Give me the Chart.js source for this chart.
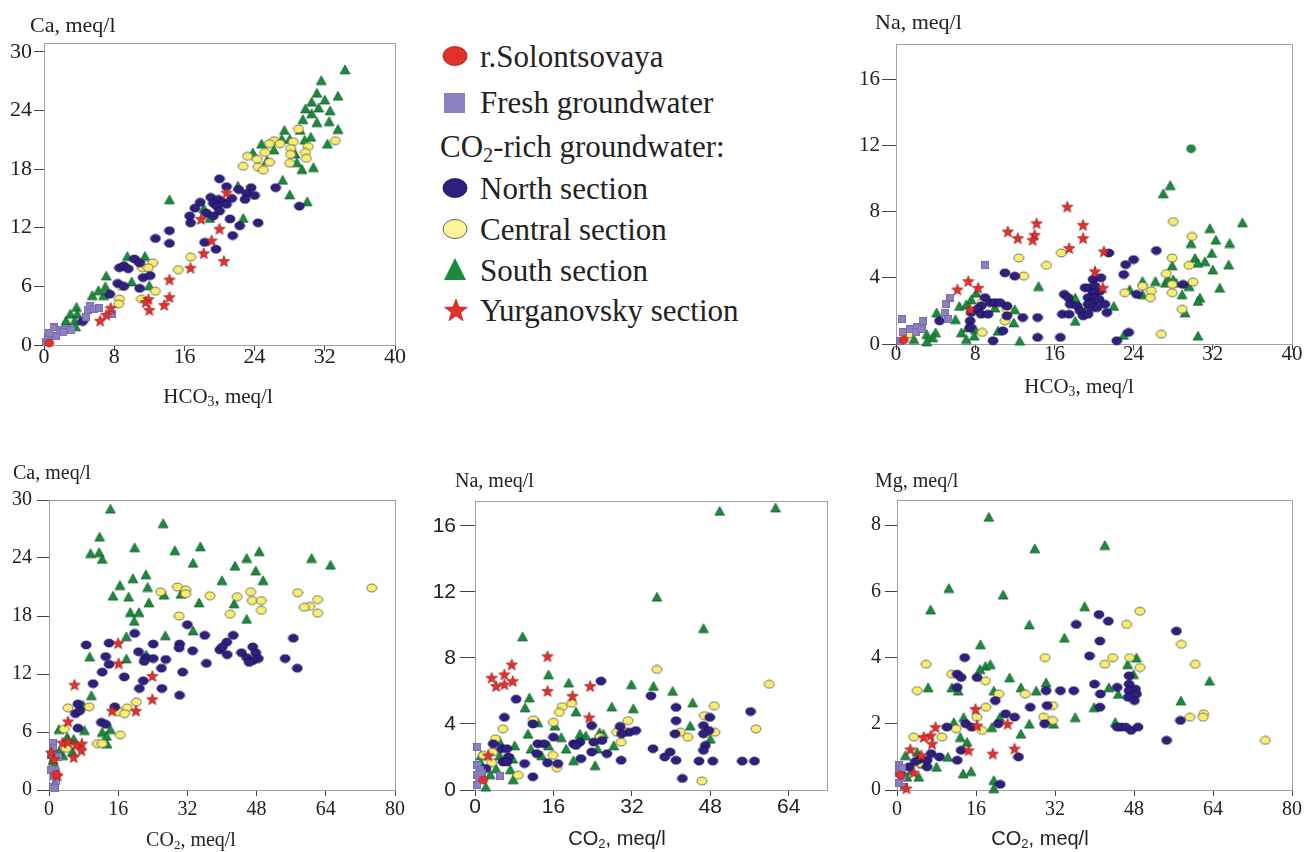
<!DOCTYPE html>
<html>
<head>
<meta charset="utf-8">
<script src="https://cdn.jsdelivr.net/npm/chart.js@4.4.1/dist/chart.umd.min.js"></script>
<style>
  html,body{margin:0;padding:0;background:#fff;}
  #wrap{position:relative;width:1311px;height:852px;overflow:hidden;background:#fff;}
  canvas{position:absolute;}
  .t{position:absolute;white-space:nowrap;line-height:1;color:#222;}
  .serif{font-family:'Liberation Serif','Times New Roman',Times,serif;}
  .sans{font-family:'Liberation Sans',Arial,Helvetica,sans-serif;}
  .c{transform:translate(-50%,-50%);}
  .l{transform:translate(0,-50%);}
  sub{font-size:65%;vertical-align:-0.25em;line-height:0;}
  .leg{position:absolute;font-family:'Liberation Serif','Times New Roman',Times,serif;font-size:31px;color:#222;line-height:1;white-space:nowrap;transform:translate(0,-50%);}
  svg.ic{position:absolute;}
</style>
</head>
<body>
<div id="wrap">
  <canvas id="c1"></canvas>
  <canvas id="c2"></canvas>
  <canvas id="c3"></canvas>
  <canvas id="c4"></canvas>
  <canvas id="c5"></canvas>

  <div class="t serif l" style="left:30px;top:25px;font-size:22px;">Ca, meq/l</div>
  <div class="t serif c" style="left:218px;top:396px;font-size:21px;">HCO<sub>3</sub>, meq/l</div>
  <div class="t serif l" style="left:875px;top:22px;font-size:22px;">Na, meq/l</div>
  <div class="t serif c" style="left:1079px;top:386px;font-size:21px;">HCO<sub>3</sub>, meq/l</div>
  <div class="t serif l" style="left:13px;top:472px;font-size:20px;">Ca, meq/l</div>
  <div class="t serif c" style="left:191px;top:839px;font-size:20px;">CO<sub>2</sub>, meq/l</div>
  <div class="t serif l" style="left:455px;top:480px;font-size:20px;">Na, meq/l</div>
  <div class="t sans c" style="left:617px;top:838px;font-size:20px;">CO<sub>2</sub>, meq/l</div>
  <div class="t serif l" style="left:875px;top:480px;font-size:20px;">Mg, meq/l</div>
  <div class="t sans c" style="left:1040px;top:838px;font-size:20px;">CO<sub>2</sub>, meq/l</div>

  <svg class="ic" style="left:440px;top:43px" width="30" height="26"><ellipse cx="15" cy="13" rx="12" ry="9.5" fill="#e3302b" stroke="#a01818" stroke-width="0.8"/></svg>
  <div class="leg" style="left:480px;top:56px;">r.Solontsovaya</div>
  <svg class="ic" style="left:440px;top:90px" width="30" height="26"><rect x="4" y="3" width="21" height="20" fill="#8d80c0"/></svg>
  <div class="leg" style="left:480px;top:102px;">Fresh groundwater</div>
  <div class="leg" style="left:440px;top:146px;">CO<sub>2</sub>-rich groundwater:</div>
  <svg class="ic" style="left:440px;top:175px" width="30" height="26"><ellipse cx="15" cy="13" rx="12" ry="9.5" fill="#2f1f80" stroke="#1a1040" stroke-width="0.8"/></svg>
  <div class="leg" style="left:480px;top:188px;">North section</div>
  <svg class="ic" style="left:440px;top:216px" width="30" height="26"><ellipse cx="15" cy="13" rx="12" ry="9.5" fill="#fbf49a" stroke="#555" stroke-width="0.9"/></svg>
  <div class="leg" style="left:480px;top:229px;">Central section</div>
  <svg class="ic" style="left:440px;top:256px" width="30" height="26"><polygon points="15,2 26,24 4,24" fill="#1a8a3c"/></svg>
  <div class="leg" style="left:480px;top:270px;">South section</div>
  <svg class="ic" style="left:441px;top:296px" width="30" height="28"><polygon id="legstar" fill="#e3302b" stroke="#a01818" stroke-width="0.6"/></svg>
  <div class="leg" style="left:480px;top:310px;">Yurganovsky section</div>
</div>
<script>
// ---------- tick labels ----------
const xTicksHCO3 = [0, 8, 16, 24, 32, 40];
const xTicksCO2 = [0, 16, 32, 48, 64, 80];
const xTicksCO2Na = [0, 16, 32, 48, 64];
const yTicksCa = [0, 6, 12, 18, 24, 30];
const yTicksNa = [0, 4, 8, 12, 16];
const yTicksMg = [0, 2, 4, 6, 8];

// ---------- Panel 1: Ca vs HCO3 ----------
const p1River = [[0.6,0.2]];
const p1Fresh = [[0.2,0.3],[0.5,0.7],[0.6,1.2],[1.1,1.8],[1.4,0.9],[1.8,1.5],[2.5,1.6],[3.1,1.5],[2.2,1.3],[4.8,2.9],[5.0,3.6],[5.2,4.0],[5.7,3.7],[6.3,3.8],[7.7,3.2]];
const p1North = [[20.0,17.0],[20.8,16.2],[23.6,16.1],[26.4,16.1],[22.2,15.9],[23.1,15.5],[24.0,15.3],[22.9,14.9],[19.0,15.1],[19.9,14.9],[17.8,14.6],[19.3,14.5],[20.4,14.6],[21.4,15.0],[20.8,14.4],[29.1,14.2],[19.7,14.2],[17.2,14.0],[18.5,13.5],[20.0,13.7],[16.6,13.2],[19.3,13.2],[16.7,12.5],[21.2,12.9],[24.4,12.5],[22.3,12.2],[21.5,11.2],[14.3,11.7],[12.7,10.9],[14.3,10.4],[18.3,10.5],[19.6,9.8],[10.3,8.8],[10.9,8.4],[8.6,7.9],[9.1,8.1],[9.6,7.8],[11.3,6.9],[12.1,7.1],[8.4,6.3],[9.1,6.0],[10.9,5.8],[7.5,5.2],[4.4,2.4]];
const p1Central = [[29.0,22.1],[26.2,20.9],[25.7,20.6],[26.9,20.6],[28.4,20.8],[28.1,20.1],[30.1,20.3],[33.2,20.9],[25.2,19.7],[28.1,19.5],[29.8,19.7],[23.2,19.3],[24.3,19.0],[29.9,19.1],[25.7,18.7],[28.0,18.6],[22.7,18.3],[24.4,18.2],[25.0,17.9],[16.7,9.0],[15.3,7.7],[10.8,8.5],[12.4,8.4],[11.2,7.9],[11.9,7.9],[8.8,6.0],[8.6,4.7],[8.5,4.2],[12.7,5.5],[11.1,4.7],[1.5,1.3]];
const p1South = [[34.3,28.2],[31.6,27.1],[31.1,25.8],[33.5,25.5],[30.5,24.9],[32.0,25.1],[29.8,24.2],[31.3,24.3],[32.6,24.0],[30.5,23.7],[29.5,23.1],[31.1,22.8],[32.5,22.9],[33.5,22.1],[29.2,22.0],[27.4,22.0],[28.0,21.1],[27.1,21.1],[30.4,21.3],[29.7,21.0],[32.3,20.6],[24.8,20.6],[26.2,20.0],[28.6,19.6],[23.8,19.7],[25.4,18.9],[28.8,18.7],[29.4,18.0],[30.7,18.2],[27.2,16.9],[22.1,16.3],[28.0,15.4],[30.0,14.7],[14.3,14.9],[18.2,14.0],[18.9,13.0],[22.7,13.0],[9.5,9.1],[11.5,9.1],[10.0,6.5],[12.0,6.1],[7.1,7.1],[7.0,6.0],[6.8,5.1],[6.2,5.6],[5.5,5.1],[3.7,3.9],[3.0,3.2],[3.8,3.2],[3.5,2.5],[2.5,2.5],[3.6,1.9]];
const p1Yurg = [[20.8,15.6],[17.9,12.9],[20.0,11.9],[19.1,10.7],[18.2,9.4],[20.5,8.6],[16.7,7.9],[14.3,6.7],[14.3,4.9],[13.7,4.1],[11.9,4.7],[11.6,4.4],[12.0,3.6],[7.6,3.8],[7.1,3.1],[6.4,2.5]];

// ---------- Panel 2: Na vs HCO3 ----------
const p2River = [[0.8,0.25]];
const p2Fresh = [[9.0,4.75],[5.5,2.8],[5.0,2.4],[4.9,1.9],[5.3,1.5],[0.6,1.5],[2.7,1.4],[2.1,1.0],[1.4,0.9],[0.7,0.7],[2.0,0.7],[2.6,0.9],[0.4,0.2]];
const p2North = [[26.3,5.65],[24.0,5.1],[23.2,4.8],[23.0,4.2],[24.3,3.0],[21.5,5.5],[11.0,4.3],[12.0,4.1],[11.2,2.3],[11.2,1.7],[12.8,1.6],[14.3,1.6],[14.3,0.4],[16.6,0.4],[9.8,0.2],[10.8,0.8],[9.0,2.8],[9.5,2.5],[10.0,2.5],[10.5,2.5],[8.6,2.3],[8.2,2.1],[8.6,1.8],[9.3,1.8],[7.6,1.9],[7.5,1.4],[7.5,1.0],[4.4,1.4],[17.0,3.0],[17.4,2.8],[17.6,2.4],[16.8,1.8],[17.5,1.8],[18.3,2.3],[18.6,2.0],[18.9,1.7],[19.4,1.8],[19.1,3.4],[19.6,3.4],[19.9,3.9],[20.1,3.5],[20.6,3.2],[19.9,3.1],[19.4,2.8],[20.1,2.8],[20.7,4.0],[19.9,2.5],[20.5,2.7],[19.4,2.4],[19.9,2.2],[21.1,2.4],[21.3,1.9],[20.3,2.2],[22.3,0.2],[23.5,0.7],[29.0,3.6]];
const p2Central = [[28.0,7.4],[29.9,6.5],[27.9,5.2],[29.6,4.75],[27.3,4.25],[30.0,3.75],[27.9,3.6],[27.9,3.1],[24.9,3.5],[25.8,3.2],[25.7,2.8],[23.1,3.1],[28.9,2.1],[26.8,0.6],[16.7,5.5],[15.2,4.75],[12.4,5.2],[12.9,4.1],[11.2,2.1],[11.0,1.4],[8.7,2.5],[8.7,0.7],[1.3,0.6]];
const p2South = [[35.0,7.35],[27.0,9.1],[27.7,9.6],[31.7,7.0],[32.3,6.3],[33.7,6.1],[29.8,6.1],[31.9,5.5],[30.2,5.2],[31.2,5.0],[30.5,4.9],[32.0,4.5],[33.6,4.8],[27.9,4.75],[32.7,3.4],[29.6,3.5],[28.9,3.0],[27.2,3.7],[28.0,3.9],[28.3,3.7],[27.5,3.9],[26.2,3.8],[24.9,3.8],[24.9,3.0],[23.6,3.3],[30.7,2.8],[30.5,2.6],[29.2,1.9],[30.5,0.5],[23.0,0.55],[22.0,2.3],[19.2,2.1],[18.1,2.8],[18.1,1.4],[14.4,3.5],[12.0,2.1],[11.9,1.3],[12.5,0.2],[10.0,2.2],[10.3,0.8],[8.1,3.1],[7.6,2.7],[7.1,2.4],[8.0,0.9],[7.2,1.0],[7.9,0.5],[7.1,0.3],[6.6,0.7],[6.4,2.3],[6.0,1.5],[4.1,1.9],[4.0,0.7],[3.7,0.4],[3.1,0.6],[3.1,0.15],[1.8,0.3]];
const p2SouthCircle = [[29.8,11.8]];
const p2Yurg = [[17.3,8.3],[18.9,7.2],[14.2,7.3],[11.3,6.8],[12.3,6.4],[14.0,6.6],[13.8,6.3],[18.9,6.4],[17.5,5.8],[21.0,5.6],[20.1,4.4],[20.9,3.4],[7.3,3.8],[6.2,3.3],[8.3,3.4],[7.5,2.1]];

// ---------- Panel 3: Ca vs CO2 ----------
const p3River = [[1.7,1.6]];
const p3Fresh = [[0.9,4.9],[0.9,4.3],[1.3,2.1],[0.5,2.1],[1.7,1.7],[1.2,1.4],[1.7,0.9],[0.9,0.3],[1.3,0.2],[0.5,3.6],[2.1,3.4]];
const p3North = [[32.0,17.1],[19.8,16.2],[36.0,16.0],[42.6,16.0],[56.5,15.7],[13.9,15.2],[24.1,15.1],[30.2,15.1],[41.1,15.3],[8.6,15.0],[20.7,14.3],[30.1,14.7],[33.2,14.4],[39.5,14.5],[40.1,14.8],[44.5,14.2],[41.2,14.0],[47.1,14.8],[47.8,14.2],[45.7,13.7],[48.4,13.6],[47.2,13.4],[46.3,13.2],[54.6,13.6],[57.4,12.6],[13.1,13.8],[22.3,13.7],[24.1,13.6],[27.0,13.5],[36.4,13.1],[13.9,13.0],[12.3,12.2],[22.0,13.3],[26.0,12.6],[30.9,12.2],[17.4,11.7],[21.8,11.3],[10.2,11.0],[20.9,10.5],[26.1,10.5],[30.2,9.8],[6.7,8.9],[6.1,7.9],[7.1,8.2],[15.2,8.6],[12.1,7.0],[13.1,6.8],[6.7,6.4]];
const p3Central = [[74.6,20.9],[29.7,21.0],[31.6,20.7],[31.6,20.3],[25.8,20.5],[37.2,20.1],[43.5,20.0],[46.6,20.5],[47.0,19.6],[49.1,19.6],[49.1,18.6],[57.5,20.4],[62.1,19.7],[60.3,19.0],[59.0,18.9],[62.1,18.3],[41.9,18.2],[30.1,18.0],[20.2,9.1],[18.1,8.5],[16.1,8.1],[17.5,7.9],[9.3,8.6],[4.4,8.5],[3.5,6.3],[16.5,5.7],[11.2,4.8],[12.3,4.8],[4.0,4.3]];
const p3South = [[14.2,29.1],[26.4,27.6],[11.7,26.2],[19.8,25.1],[9.6,24.5],[11.6,24.6],[12.3,23.9],[29.1,24.8],[35.0,25.2],[48.6,24.7],[45.7,24.0],[60.7,24.0],[65.1,23.3],[33.3,23.5],[43.0,23.2],[47.8,22.7],[49.5,21.7],[40.0,21.7],[22.4,22.3],[19.4,21.9],[22.8,21.0],[16.4,21.2],[14.8,20.1],[18.4,20.0],[26.6,20.2],[30.5,20.3],[23.1,19.4],[34.7,19.4],[42.8,19.3],[18.8,18.4],[20.8,18.4],[19.7,17.5],[45.7,17.7],[17.9,15.9],[26.9,16.0],[33.3,16.5],[22.5,14.0],[17.9,13.6],[9.4,13.8],[9.8,9.8],[7.9,8.8],[8.2,6.2],[14.2,6.3],[12.3,6.0],[13.3,5.6],[13.4,4.8],[2.3,6.3],[4.2,5.5],[5.7,5.3],[5.4,4.0],[3.2,3.6],[2.3,4.0],[0.9,3.1],[1.3,2.6]];
const p3Yurg = [[16.0,15.2],[16.1,13.1],[23.9,11.8],[5.9,10.9],[23.9,9.4],[20.1,8.2],[14.6,8.2],[4.4,7.1],[3.1,4.9],[4.4,5.0],[6.3,4.7],[7.6,4.8],[7.5,4.1],[5.7,3.4],[0.5,3.9],[1.2,3.2],[2.0,1.5]];

// ---------- Panel 4: Na vs CO2 ----------
const p4River = [[1.7,0.6]];
const p4Fresh = [[0.5,2.6],[0.5,1.5],[1.0,1.2],[0.5,0.9],[1.0,0.75],[0.5,0.3],[5.1,0.85],[1.4,1.0]];
const p4North = [[25.7,6.6],[35.9,5.7],[8.4,5.5],[41.0,5.0],[56.2,4.75],[6.0,4.4],[47.9,4.4],[11.8,4.0],[23.8,3.9],[41.0,4.2],[46.6,3.9],[29.6,3.85],[31.5,3.5],[32.8,3.6],[29.9,3.4],[47.7,3.6],[40.8,3.4],[46.6,3.4],[3.7,2.8],[12.8,2.8],[14.1,2.8],[16.0,3.2],[24.2,2.9],[25.9,3.0],[20.1,2.8],[21.4,2.9],[20.6,2.7],[5.4,2.5],[6.5,2.5],[47.0,2.7],[46.6,2.4],[23.8,2.3],[12.6,2.2],[36.3,2.5],[39.8,2.3],[38.7,2.0],[26.9,2.2],[6.8,2.0],[5.7,1.7],[6.5,1.7],[21.6,1.9],[29.8,1.8],[41.0,1.8],[45.7,1.75],[48.5,1.75],[54.5,1.75],[57.0,1.75],[14.8,1.65],[10.1,1.6],[16.9,1.6],[2.2,1.3],[11.8,0.8],[42.3,0.7]];
const p4Central = [[37.1,7.3],[60.0,6.4],[17.8,5.05],[19.7,5.25],[17.2,4.7],[48.8,5.1],[46.8,4.5],[11.9,4.25],[16.0,4.1],[31.2,4.2],[5.7,3.7],[57.3,3.7],[28.9,3.5],[30.8,3.5],[41.9,3.5],[48.9,3.5],[4.2,3.1],[25.5,3.2],[43.4,3.2],[29.8,2.9],[3.6,2.3],[1.7,2.1],[15.9,2.1],[3.4,1.65],[16.7,1.35],[8.8,0.9],[46.3,0.55]];
const p4South = [[61.3,17.1],[49.9,16.9],[37.1,11.7],[46.6,9.8],[9.7,9.3],[15.0,7.0],[19.1,6.5],[31.9,6.4],[36.4,6.3],[40.3,6.0],[11.1,5.6],[44.4,5.3],[10.2,5.0],[27.9,5.05],[32.3,4.95],[20.6,4.75],[12.8,4.1],[16.3,3.9],[43.9,3.9],[10.8,3.4],[21.4,3.4],[22.6,3.3],[17.6,3.2],[25.4,3.5],[26.2,3.4],[30.3,3.6],[48.0,3.1],[4.9,3.0],[8.1,2.7],[15.0,2.7],[28.3,2.7],[11.4,2.5],[18.6,2.5],[25.0,2.5],[13.6,2.1],[5.0,2.1],[7.7,1.9],[20.1,1.8],[24.5,1.5],[1.2,2.1],[1.2,1.65],[4.3,1.3],[7.2,1.25],[3.1,0.95],[7.8,0.65],[2.2,0.2]];
const p4Yurg = [[14.8,8.1],[7.5,7.6],[6.0,7.0],[3.4,6.8],[7.7,6.6],[4.3,6.3],[6.0,6.4],[14.8,6.0],[23.5,6.3],[19.9,5.7],[23.3,4.4],[2.7,2.1]];

// ---------- Panel 5: Mg vs CO2 ----------
const p5River = [[0.7,0.45]];
const p5Fresh = [[0.5,0.75],[0.5,0.6],[0.5,0.5],[1.0,0.35],[0.5,0.2],[1.4,0.1],[1.0,0.65]];
const p5North = [[40.9,5.3],[42.8,5.1],[36.3,5.0],[56.6,4.8],[41.1,4.5],[13.7,4.0],[39.0,4.05],[12.2,3.5],[13.0,3.4],[16.2,3.4],[12.2,3.1],[47.0,3.45],[40.0,3.2],[47.0,3.2],[44.6,3.1],[48.3,3.05],[47.0,3.0],[48.5,2.9],[41.2,2.9],[30.2,3.0],[33.1,3.0],[35.8,3.0],[46.8,2.8],[48.1,2.7],[30.4,2.55],[27.0,2.5],[19.9,2.7],[41.1,2.5],[22.0,2.3],[23.8,2.2],[20.5,2.0],[13.9,2.0],[15.1,1.9],[10.1,1.9],[29.9,2.0],[45.4,1.9],[46.3,1.9],[44.6,1.9],[47.4,1.8],[48.8,1.9],[57.4,2.1],[54.6,1.5],[13.0,1.2],[12.2,0.9],[6.9,1.1],[8.6,1.0],[6.1,0.9],[4.6,0.93],[6.1,0.7],[3.7,0.86],[2.4,0.7],[24.6,1.0],[20.9,0.17],[0.7,0.5]];
const p5Central = [[74.6,1.5],[49.2,5.4],[46.5,5.0],[57.6,4.4],[60.4,3.8],[47.1,4.0],[43.7,4.0],[42.1,3.8],[49.2,3.7],[30.0,4.0],[5.9,3.8],[11.1,3.5],[17.9,3.3],[4.1,3.0],[20.6,2.9],[26.0,2.9],[31.5,2.55],[18.0,2.5],[29.7,2.2],[31.5,2.1],[16.2,2.2],[12.0,1.85],[17.2,1.8],[59.3,2.2],[62.1,2.3],[62.0,2.2],[3.4,1.6],[9.1,1.6],[4.6,0.8]];
const p5South = [[18.6,8.25],[42.1,7.4],[27.9,7.3],[10.5,6.1],[21.5,5.9],[6.8,5.45],[38.0,5.55],[26.8,5.0],[33.9,4.6],[16.9,4.4],[48.5,4.0],[17.9,3.75],[18.9,3.8],[16.8,3.65],[46.7,3.8],[47.9,3.5],[6.3,3.1],[11.1,3.1],[12.4,3.0],[22.8,3.4],[30.2,3.25],[25.1,3.1],[28.2,3.0],[42.9,3.1],[44.8,2.9],[19.6,3.0],[63.3,3.3],[57.5,2.7],[39.9,2.5],[11.5,2.05],[13.5,2.2],[20.8,2.2],[36.1,2.2],[31.7,2.0],[26.8,2.0],[44.2,2.05],[19.2,1.9],[25.1,1.7],[12.8,1.6],[14.2,1.45],[10.3,1.0],[1.7,1.05],[4.1,1.15],[8.0,0.7],[5.3,0.8],[4.4,0.4],[13.4,0.5],[15.0,0.57],[19.6,0.3],[19.6,0.05],[2.0,0.4],[3.0,0.6]];
const p5Yurg = [[15.9,2.45],[16.2,1.95],[22.4,2.0],[7.8,1.9],[6.8,1.65],[5.4,1.6],[7.1,1.4],[19.4,1.1],[14.5,1.2],[23.8,1.25],[2.7,1.23],[4.9,1.05],[3.4,0.53],[1.9,0.05]];

// ---------- marker images ----------
function mk(w, h, draw) {
  const c = document.createElement('canvas');
  c.width = w; c.height = h;
  draw(c.getContext('2d'), w, h);
  return c;
}
function ellipse(w, h, fill, stroke, lw) {
  return mk(w + 2, h + 2, (g, W, H) => {
    g.beginPath(); g.ellipse(W / 2, H / 2, w / 2, h / 2, 0, 0, Math.PI * 2);
    g.fillStyle = fill; g.fill(); g.lineWidth = lw; g.strokeStyle = stroke; g.stroke();
  });
}
function tri(w, h, fill, stroke) {
  return mk(w + 2, h + 2, (g, W, H) => {
    g.beginPath(); g.moveTo(W / 2, 1); g.lineTo(W - 1, H - 1); g.lineTo(1, H - 1); g.closePath();
    g.fillStyle = fill; g.fill(); g.lineWidth = 0.6; g.strokeStyle = stroke; g.stroke();
  });
}
function sq(s, fill) {
  return mk(s, s, (g) => { g.fillStyle = fill; g.fillRect(0, 0, s, s); g.strokeStyle = '#6a5ea0'; g.lineWidth = 0.5; g.strokeRect(0.25, 0.25, s - 0.5, s - 0.5); });
}
function starPts(cx, cy, ro, ri) {
  const p = [];
  for (let i = 0; i < 10; i++) {
    const r = i % 2 ? ri : ro;
    const a = -Math.PI / 2 + i * Math.PI / 5;
    p.push([cx + r * Math.cos(a), cy + r * Math.sin(a)]);
  }
  return p;
}
function star(s, fill, stroke) {
  return mk(s + 2, s + 2, (g, W, H) => {
    const p = starPts(W / 2, H / 2 + 0.6, s / 2, s / 4.6);
    g.beginPath(); p.forEach((q, i) => i ? g.lineTo(q[0], q[1]) : g.moveTo(q[0], q[1])); g.closePath();
    g.fillStyle = fill; g.fill(); g.lineWidth = 0.6; g.strokeStyle = stroke; g.stroke();
  });
}
document.getElementById('legstar').setAttribute('points', starPts(15, 15, 12, 5).map(q => q.join(',')).join(' '));

const M = {
  river: ellipse(9, 8, '#e3302b', '#9a1515', 0.6),
  fresh: sq(8, '#8d80c0'),
  north: ellipse(10, 8, '#2f1f80', '#140c40', 0.7),
  central: ellipse(10, 8, '#f8ee6c', '#555', 0.8),
  south: tri(10, 9, '#1a8a3c', '#0b4a1c'),
  southC: ellipse(9, 8, '#1a8a3c', '#0b4a1c', 0.6),
  yurg: star(12, '#e3302b', '#8a1212')
};

const serif = "'Liberation Serif','Times New Roman',Times,serif";
const sans = "'Liberation Sans',Arial,Helvetica,sans-serif";

const framePlugin = {
  id: 'frame',
  beforeDatasetsDraw(chart) {
    const a = chart.chartArea, g = chart.ctx;
    g.save(); g.strokeStyle = '#a0a0a0'; g.lineWidth = 1;
    g.strokeRect(a.left + 0.5, a.top + 0.5, a.right - a.left, a.bottom - a.top);
    g.restore();
  }
};

function pts(arr) { return arr.map(p => ({ x: p[0], y: p[1] })); }

function build(id, area, xr, yr, xt, yt, tf, series) {
  const PL = 62, PT = 20, PR = 28, PB = 48;
  const cv = document.getElementById(id);
  const w = area[2] - area[0] + PL + PR, h = area[3] - area[1] + PT + PB;
  cv.width = w; cv.height = h;
  cv.style.width = w + 'px'; cv.style.height = h + 'px';
  cv.style.left = (area[0] - PL) + 'px'; cv.style.top = (area[1] - PT) + 'px';
  const order = ['river', 'yurg', 'fresh', 'north', 'central', 'south', 'southC'];
  const datasets = order.filter(k => series[k]).map(k => ({
    label: k, data: pts(series[k]), pointStyle: M[k], pointRadius: 5, pointHoverRadius: 5, clip: false, showLine: false
  }));
  const axisCommon = (ticks, min, max, tl, pad) => ({
    type: 'linear', min, max,
    afterBuildTicks: s => { s.ticks = ticks.map(v => ({ value: v })); },
    grid: { display: true, drawOnChartArea: false, drawTicks: true, tickLength: tl, color: '#444', lineWidth: 1 },
    border: { display: true, color: '#666', width: 1 },
    ticks: { color: '#222', font: { family: tf.family, size: tf.size }, padding: pad, maxRotation: 0, autoSkip: false, callback: v => String(v) }
  });
  const xs = axisCommon(xt, xr[0], xr[1], 6, tf.xPad);
  xs.position = 'bottom';
  xs.afterFit = s => { s.height = PB; };
  const ys = axisCommon(yt, yr[0], yr[1], tf.yTL, tf.yPad);
  ys.position = 'left';
  ys.afterFit = s => { s.width = PL; };
  return new Chart(cv, {
    type: 'scatter',
    data: { datasets },
    options: {
      responsive: false, animation: false, events: [],
      layout: { padding: { top: PT, right: PR, left: 0, bottom: 0 } },
      plugins: { legend: { display: false }, tooltip: { enabled: false } },
      scales: { x: xs, y: ys }
    },
    plugins: [framePlugin]
  });
}

build('c1', [44, 43, 395, 345], [0, 40], [0, 30.9], xTicksHCO3, yTicksCa,
  { family: serif, size: 22, yTL: 10, yPad: 2, xPad: -7 },
  { river: p1River, fresh: p1Fresh, north: p1North, central: p1Central, south: p1South, yurg: p1Yurg });
build('c2', [896, 44, 1292, 344], [0, 40], [0, 18.13], xTicksHCO3, yTicksNa,
  { family: serif, size: 21, yTL: 14, yPad: 2, xPad: -8 },
  { river: p2River, fresh: p2Fresh, north: p2North, central: p2Central, south: p2South, southC: p2SouthCircle, yurg: p2Yurg });
build('c3', [49, 500, 395, 790], [0, 80], [0, 30], xTicksCO2, yTicksCa,
  { family: serif, size: 20, yTL: 12, yPad: 5, xPad: 2 },
  { river: p3River, fresh: p3Fresh, north: p3North, central: p3Central, south: p3South, yurg: p3Yurg });
build('c4', [475, 501, 827, 790], [0, 71.8], [0, 17.5], xTicksCO2Na, yTicksNa,
  { family: sans, size: 21, yTL: 15, yPad: 4, xPad: -1 },
  { river: p4River, fresh: p4Fresh, north: p4North, central: p4Central, south: p4South, yurg: p4Yurg });
build('c5', [897, 500, 1292, 790], [0, 80], [0, 8.76], xTicksCO2, yTicksMg,
  { family: serif, size: 20, yTL: 12, yPad: 4, xPad: 1.5 },
  { river: p5River, fresh: p5Fresh, north: p5North, central: p5Central, south: p5South, yurg: p5Yurg });
</script>
</body>
</html>
